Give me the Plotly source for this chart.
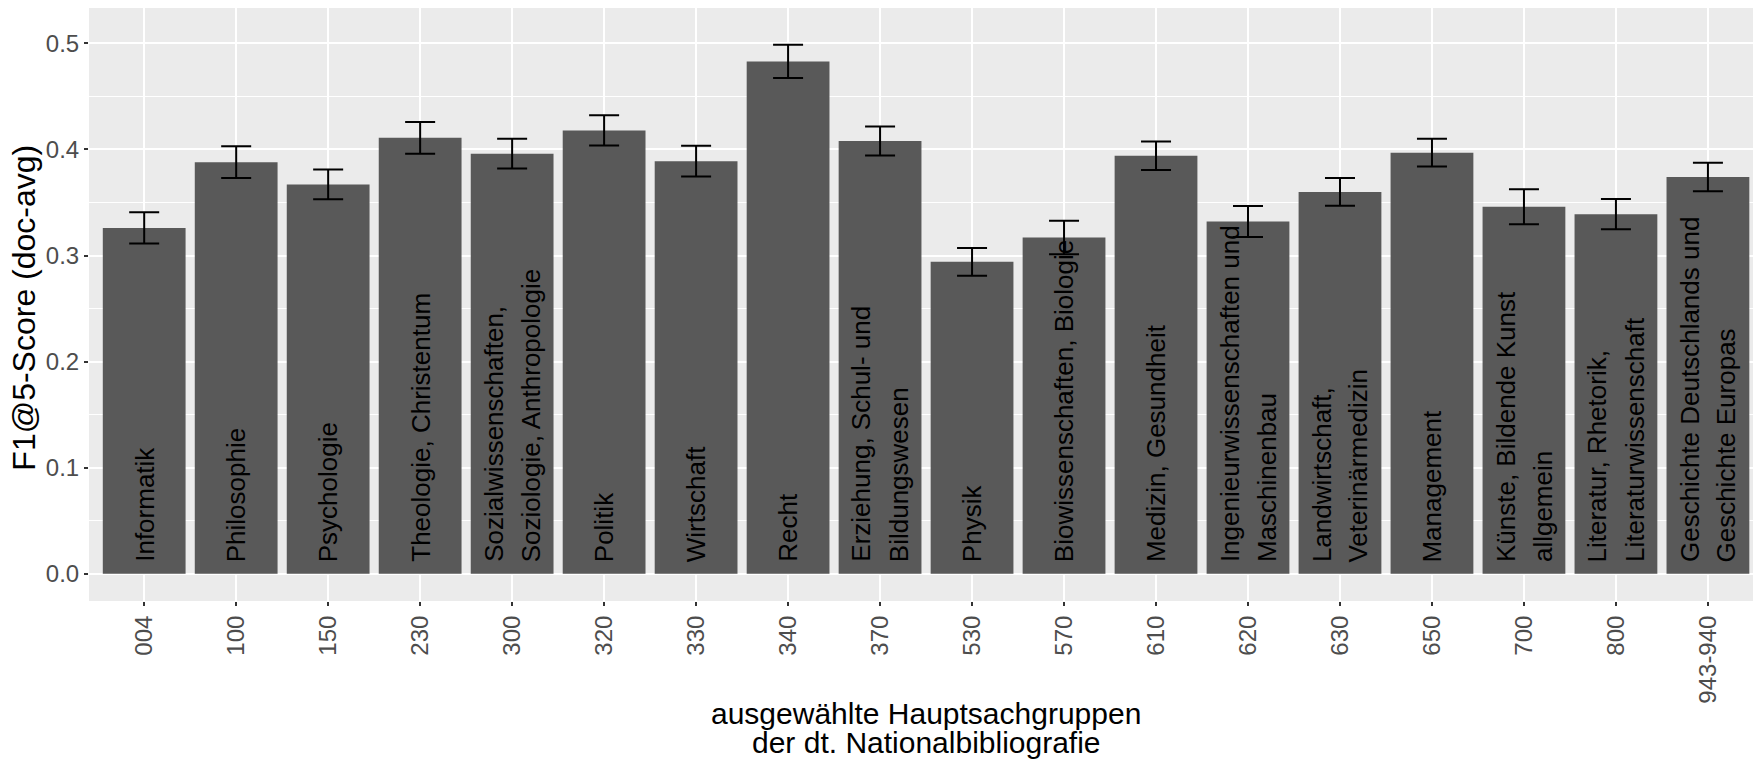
import plotly.graph_objects as go

codes = ["004", "100", "150", "230", "300", "320", "330", "340", "370",
         "530", "570", "610", "620", "630", "650", "700", "800", "943-940"]
names = ["Informatik", "Philosophie", "Psychologie", "Theologie, Christentum",
         "Sozialwissenschaften,\nSoziologie, Anthropologie", "Politik", "Wirtschaft",
         "Recht", "Erziehung, Schul- und\nBildungswesen", "Physik",
         "Biowissenschaften, Biologie", "Medizin, Gesundheit",
         "Ingenieurwissenschaften und\nMaschinenbau", "Landwirtschaft,\nVeterinärmedizin",
         "Management", "Künste, Bildende Kunst\nallgemein",
         "Literatur, Rhetorik,\nLiteraturwissenschaft",
         "Geschichte Deutschlands und\nGeschichte Europas"]
f1 = [0.326, 0.388, 0.367, 0.411, 0.396, 0.418, 0.389, 0.483, 0.408,
      0.294, 0.317, 0.394, 0.332, 0.360, 0.397, 0.346, 0.339, 0.374]
err = [0.0147, 0.015, 0.014, 0.015, 0.014, 0.0142, 0.0146, 0.0157, 0.0137,
       0.013, 0.0157, 0.0134, 0.0146, 0.013, 0.013, 0.0165, 0.0143, 0.0135]
y_ticks = [0.0, 0.1, 0.2, 0.3, 0.4, 0.5]
y_title = "F1@5-Score (doc-avg)"
x_title = ["ausgewählte Hauptsachgruppen", "der dt. Nationalbibliografie"]

FONT = "Liberation Sans, Arial, sans-serif"

fig = go.Figure()
fig.add_trace(go.Bar(
    x=codes, y=f1,
    marker=dict(color="#595959", line=dict(width=0)),
    error_y=dict(type="data", array=err, visible=True, color="black",
                 thickness=2, width=15),
    hoverinfo="x+y",
))

annotations = []
for idx, name in enumerate(names):
    lines = name.split("\n")
    n = len(lines)
    for i, ln in enumerate(lines):
        annotations.append(dict(
            x=idx, y=0.009, xref="x", yref="y",
            text=ln, textangle=-90, showarrow=False,
            xanchor="center", yanchor="bottom",
            xshift=(i - (n - 1) / 2) * 37,
            font=dict(family=FONT, size=26, color="black"),
        ))

# axis titles
annotations.append(dict(
    x=-0.0393, y=0.494, xref="paper", yref="paper",
    text=y_title, textangle=-90, showarrow=False,
    xanchor="center", yanchor="middle",
    font=dict(family=FONT, size=32, color="black"),
))
for i, t in enumerate(x_title):
    annotations.append(dict(
        x=(len(codes) - 1) / 2, y=0, xref="x", yref="paper",
        text=t, showarrow=False, xanchor="center", yanchor="middle",
        yshift=-(112 + 29 * i),
        font=dict(family=FONT, size=30, color="black"),
    ))

fig.update_layout(
    width=1753, height=765,
    margin=dict(l=88.5, r=0, t=8, b=164, pad=0),
    paper_bgcolor="white", plot_bgcolor="#EBEBEB",
    bargap=0.1, showlegend=False,
    font=dict(family=FONT),
    annotations=annotations,
    xaxis=dict(
        type="category", range=[-0.6, 17.49],
        showgrid=True, gridcolor="white", gridwidth=2,
        ticks="outside", ticklen=4, tickcolor="#333333", tickwidth=1.5,
        tickangle=-90, tickfont=dict(family=FONT, size=24, color="#4D4D4D"),
        showline=False, zeroline=False, automargin=False,
    ),
    yaxis=dict(
        range=[-0.0258, 0.5334],
        tickvals=y_ticks, ticktext=[f"{v:.1f}" for v in y_ticks],
        showgrid=True, gridcolor="white", gridwidth=2,
        minor=dict(dtick=0.05, tick0=0.05, showgrid=True, gridcolor="white", gridwidth=1),
        ticks="outside", ticklen=4, tickcolor="#333333", tickwidth=1.5,
        tickfont=dict(family=FONT, size=24, color="#4D4D4D"),
        showline=False, zeroline=False, automargin=False,
    ),
)

fig.write_html("out.html",
               config={"displayModeBar": False},
               post_script="document.body.style.margin='0';document.body.style.overflow='hidden';")
